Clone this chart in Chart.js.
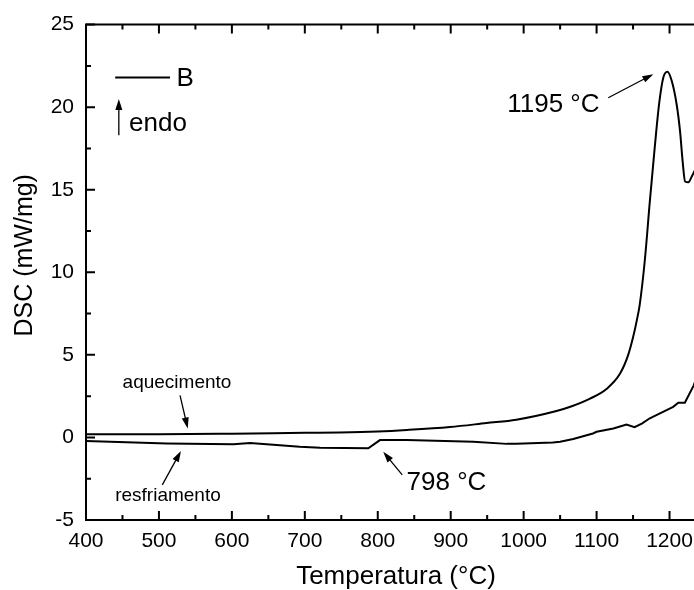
<!DOCTYPE html>
<html>
<head>
<meta charset="utf-8">
<script src="https://cdn.jsdelivr.net/npm/chart.js@4.4.1/dist/chart.umd.min.js"></script>
<style>
  html, body { margin: 0; padding: 0; background: #fff; overflow: hidden; }
  #wrap { position: relative; width: 760px; height: 590px; }
</style>
</head>
<body>
<div id="wrap"><canvas id="c"></canvas></div>
<script>
// ---- data ----
const heatingT = [400, 500, 600, 700, 748, 800, 840, 899, 949, 990, 1045, 1063, 1091, 1114, 1132, 1143, 1150, 1155, 1159, 1166, 1173, 1180, 1186, 1191.5, 1197, 1203, 1210, 1214.5, 1218, 1221.3, 1225.8, 1230.5, 1236];
const heatingDSC = [0.2, 0.2, 0.23, 0.28, 0.3, 0.36, 0.45, 0.63, 0.87, 1.07, 1.6, 1.84, 2.35, 2.95, 3.85, 4.95, 6.06, 7.06, 8.0, 10.67, 14.29, 17.7, 20.3, 21.8, 22.15, 21.6, 20.1, 18.5, 16.7, 15.5, 15.45, 15.8, 16.3];
const coolingT = [400, 511, 602, 625, 693, 721, 787, 803, 840, 931, 977, 990, 1040, 1050, 1068, 1095, 1100, 1123, 1141, 1152, 1162, 1173, 1182, 1205, 1212, 1221, 1233, 1236];
const coolingDSC = [-0.22, -0.36, -0.42, -0.33, -0.57, -0.63, -0.66, -0.16, -0.16, -0.26, -0.39, -0.39, -0.30, -0.26, -0.1, 0.24, 0.34, 0.54, 0.78, 0.62, 0.84, 1.16, 1.35, 1.85, 2.1, 2.1, 3.14, 3.5];
const xTicks = [400, 500, 600, 700, 800, 900, 1000, 1100, 1200];
const yTicks = [-5, 0, 5, 10, 15, 20, 25];
const xLabel = 'Temperatura (°C)';
const yLabel = 'DSC (mW/mg)';
const seriesName = 'B';

const FONT = "'Liberation Sans', Arial, Helvetica, sans-serif";

// annotations in data units
const notes = [
  { text: '1195 °C', x: 1104, y: 20.17, align: 'right', size: 26, arrow: [1116, 20.57, 1177.8, 22.0] },
  { text: '798 °C', x: 839.5, y: -2.73, align: 'left', size: 26, arrow: [833.6, -2.27, 807.5, -0.87] },
  { text: 'aquecimento', x: 524.7, y: 3.33, align: 'center', size: 19, arrow: [528.9, 2.55, 539.5, 0.54] },
  { text: 'resfriamento', x: 512.4, y: -3.52, align: 'center', size: 19, arrow: [504.6, -2.87, 530.2, -0.82] },
  { text: 'endo', x: 459, y: 19.0, align: 'left', size: 26, arrow: [445, 18.3, 445, 20.5] }
];

function arrow(ctx, x1, y1, x2, y2) {
  const ang = Math.atan2(y2 - y1, x2 - x1);
  const L = 11, W = 3.5;
  ctx.beginPath();
  ctx.moveTo(x1, y1);
  ctx.lineTo(x2 - L * 0.8 * Math.cos(ang), y2 - L * 0.8 * Math.sin(ang));
  ctx.lineWidth = 1.3;
  ctx.stroke();
  ctx.beginPath();
  ctx.moveTo(x2, y2);
  ctx.lineTo(x2 - L * Math.cos(ang) + W * Math.sin(ang), y2 - L * Math.sin(ang) - W * Math.cos(ang));
  ctx.lineTo(x2 - L * Math.cos(ang) - W * Math.sin(ang), y2 - L * Math.sin(ang) + W * Math.cos(ang));
  ctx.closePath();
  ctx.fill();
}

const framePlugin = {
  id: 'frame',
  afterDraw(chart) {
    const { ctx, chartArea: a, scales: { x, y } } = chart;
    ctx.save();
    ctx.strokeStyle = '#000';
    ctx.fillStyle = '#000';
    ctx.lineWidth = 2;
    ctx.lineCap = 'butt';
    ctx.beginPath();
    ctx.rect(a.left, a.top, a.right - a.left, a.bottom - a.top);
    ctx.stroke();
    // x ticks (inward, top and bottom)
    for (let v = x.min; v <= x.max + 1e-9; v += 50) {
      const px = x.getPixelForValue(v);
      const len = (Math.round(v) % 100 === 0) ? 9 : 5;
      ctx.beginPath();
      ctx.moveTo(px, a.bottom); ctx.lineTo(px, a.bottom - len);
      ctx.moveTo(px, a.top); ctx.lineTo(px, a.top + len);
      ctx.stroke();
    }
    // y ticks (inward, left and right)
    for (let v = y.min; v <= y.max + 1e-9; v += 2.5) {
      const py = y.getPixelForValue(v);
      const len = (Math.abs(v % 5) < 1e-9) ? 9 : 5;
      ctx.beginPath();
      ctx.moveTo(a.left, py); ctx.lineTo(a.left + len, py);
      ctx.moveTo(a.right, py); ctx.lineTo(a.right - len, py);
      ctx.stroke();
    }
    // y axis title
    ctx.save();
    ctx.translate(25, (a.top + a.bottom) / 2 - 17);
    ctx.rotate(-Math.PI / 2);
    ctx.font = '25px ' + FONT;
    ctx.textAlign = 'center';
    ctx.textBaseline = 'middle';
    ctx.fillText(yLabel, 0, 0);
    ctx.restore();
    // legend
    const lx1 = x.getPixelForValue(440), lx2 = x.getPixelForValue(515.2), ly = y.getPixelForValue(21.8);
    ctx.lineWidth = 2;
    ctx.beginPath(); ctx.moveTo(lx1, ly); ctx.lineTo(lx2, ly); ctx.stroke();
    ctx.font = '26px ' + FONT;
    ctx.textBaseline = 'middle';
    ctx.textAlign = 'left';
    ctx.fillText(seriesName, x.getPixelForValue(524), ly + 1);
    // annotations
    notes.forEach(n => {
      ctx.font = n.size + 'px ' + FONT;
      ctx.textAlign = n.align;
      ctx.textBaseline = 'middle';
      ctx.fillText(n.text, x.getPixelForValue(n.x), y.getPixelForValue(n.y));
      const [ax1, ay1, ax2, ay2] = n.arrow;
      arrow(ctx, x.getPixelForValue(ax1), y.getPixelForValue(ay1), x.getPixelForValue(ax2), y.getPixelForValue(ay2));
    });
    ctx.restore();
  }
};

const toPts = (xs, ys) => xs.map((t, i) => ({ x: t, y: ys[i] }));

new Chart(document.getElementById('c'), {
  type: 'line',
  data: {
    datasets: [
      { label: 'aquecimento', data: toPts(heatingT, heatingDSC), borderColor: '#000', borderWidth: 2, pointRadius: 0, tension: 0.3, cubicInterpolationMode: 'monotone', fill: false },
      { label: 'resfriamento', data: toPts(coolingT, coolingDSC), borderColor: '#000', borderWidth: 2, pointRadius: 0, tension: 0, fill: false }
    ]
  },
  options: {
    responsive: true,
    maintainAspectRatio: false,
    animation: false,
    events: [],
    layout: { padding: { top: 22, right: 54, left: 0, bottom: 0 } },
    plugins: { legend: { display: false }, tooltip: { enabled: false }, title: { display: false } },
    scales: {
      x: {
        type: 'linear', min: 400, max: 1250,
        afterBuildTicks(s) { s.ticks = xTicks.map(v => ({ value: v })); },
        afterFit(s) { s.height = 70; },
        grid: { display: false, drawTicks: false },
        border: { display: false },
        ticks: { color: '#000', font: { family: FONT, size: 21 }, padding: 9, maxRotation: 0, autoSkip: false, callback: v => String(v) },
        title: { display: true, text: xLabel, color: '#000', font: { family: FONT, size: 26, lineHeight: 1.0 }, padding: { top: 0, bottom: 0 } }
      },
      y: {
        type: 'linear', min: -5, max: 25,
        afterBuildTicks(s) { s.ticks = yTicks.map(v => ({ value: v })); },
        afterFit(s) { s.width = 86; },
        grid: { display: false, drawTicks: false },
        border: { display: false },
        ticks: { color: '#000', font: { family: FONT, size: 21 }, padding: 12, callback: v => String(v) },
        title: { display: false }
      }
    }
  },
  plugins: [framePlugin]
});
</script>
</body>
</html>
